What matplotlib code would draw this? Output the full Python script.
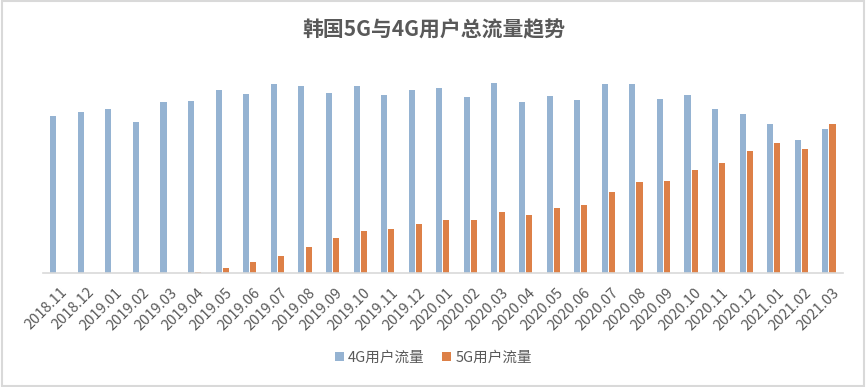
import matplotlib.pyplot as plt
import matplotlib.transforms as mtransforms
import numpy as np

plt.rcParams['font.family'] = ['Noto Sans CJK SC', 'DejaVu Sans']

# months on the x axis
months = ['2018.11', '2018.12', '2019.01', '2019.02', '2019.03', '2019.04',
          '2019.05', '2019.06', '2019.07', '2019.08', '2019.09', '2019.10',
          '2019.11', '2019.12', '2020.01', '2020.02', '2020.03', '2020.04',
          '2020.05', '2020.06', '2020.07', '2020.08', '2020.09', '2020.10',
          '2020.11', '2020.12', '2021.01', '2021.02', '2021.03']

# traffic (relative units)
traffic_4g = [157, 161, 164, 151, 171, 172, 183, 179, 189, 187, 180, 187,
              178, 183, 185, 176, 190, 171, 177, 173, 189, 189, 174, 178,
              164, 159, 149, 133, 144]
traffic_5g = [0, 0, 0, 0, 0, 1, 5, 11, 17, 26, 35, 42,
              44, 49, 53, 53, 61, 58, 65, 68, 81, 91, 92, 103,
              110, 122, 130, 124, 149]

fig = plt.figure(figsize=(8.67, 3.87), dpi=100)
ax = fig.add_axes([0.0496, 0.2946, 0.9224, 0.516])

x = np.arange(len(months))
w = 0.22
ax.bar(x - 0.13, traffic_4g, w, color='#95b3d2', label='4G用户流量')
ax.bar(x + 0.13, traffic_5g, w, color='#dd8047', label='5G用户流量')

ax.set_xlim(-0.5, len(months) - 0.5)
ax.set_ylim(0, 200)
ax.set_yticks([])
for s in ['top', 'right', 'left']:
    ax.spines[s].set_visible(False)
ax.spines['bottom'].set_color('#d9d9d9')
ax.spines['bottom'].set_linewidth(1.2)

ax.set_xticks(x)
ax.set_xticklabels(months, rotation=45, ha='right', rotation_mode='anchor',
                   fontsize=10.5, color='#595959')
ax.tick_params(axis='x', length=0, pad=6)
shift = mtransforms.ScaledTranslation(0.03, -0.04, fig.dpi_scale_trans)
for lab in ax.get_xticklabels():
    lab.set_transform(lab.get_transform() + shift)

fig.text(0.5, 0.922, '韩国5G与4G用户总流量趋势', ha='center', va='center',
         fontsize=15, fontweight='bold', color='#595959')

fig.legend(loc='center', bbox_to_anchor=(0.5, 0.075), ncol=2, frameon=False,
           fontsize=10.5, labelcolor='#595959', handlelength=0.6, handleheight=0.6,
           columnspacing=1.2, handletextpad=0.3)

# light frame around the chart
fig.patches.append(plt.Rectangle((0.002, 0.003), 0.995, 0.994, transform=fig.transFigure,
                                 fill=False, edgecolor='#d9d9d9', linewidth=1.5))

fig.savefig('out.png')
